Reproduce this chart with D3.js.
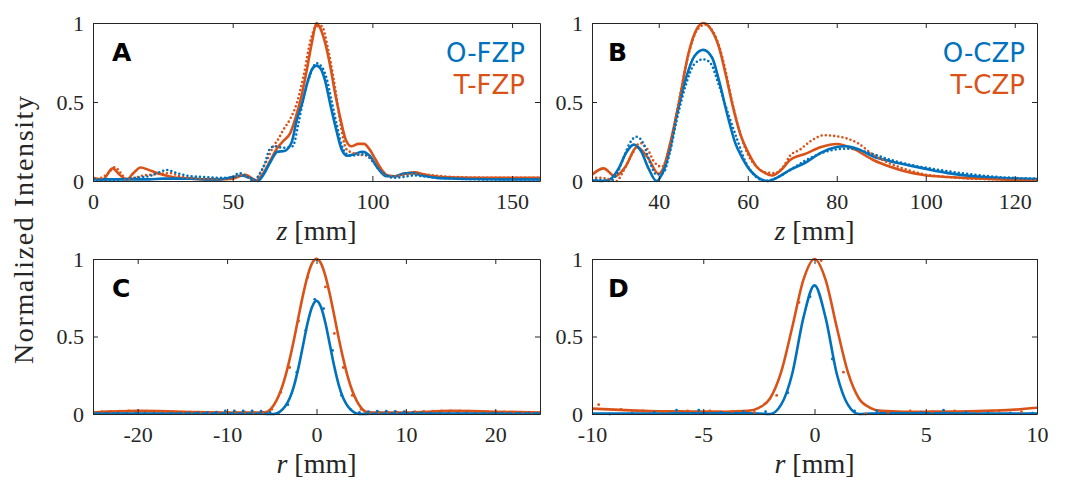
<!DOCTYPE html>
<html>
<head>
<meta charset="utf-8">
<script src="https://cdn.jsdelivr.net/npm/d3@7"></script>
<style>
  html, body { margin: 0; padding: 0; background: #fff; }
  svg { display: block; }
</style>
</head>
<body>
<div id="chart"></div>
<script>
// Panel A (FZP, axial): z in mm
const A_FIT_O_Z = [0, 5, 10, 15, 20, 25, 30, 35, 40, 45, 50, 53, 56, 59, 61, 63.5, 66, 68.5, 71, 73, 75, 77, 78.5, 80, 81.5, 83, 85, 87, 89, 91, 93.5, 96.5, 99, 102, 105, 108, 111, 114, 118, 123, 130, 140, 150, 160];
const A_FIT_O = [0.01, 0.01, 0.01, 0.01, 0.01, 0.015, 0.015, 0.015, 0.01, 0.01, 0.025, 0.035, 0.02, 0.0, 0.04, 0.12, 0.185, 0.19, 0.24, 0.39, 0.5, 0.64, 0.71, 0.73, 0.71, 0.64, 0.48, 0.33, 0.2, 0.16, 0.17, 0.185, 0.16, 0.08, 0.03, 0.03, 0.045, 0.05, 0.035, 0.02, 0.015, 0.012, 0.01, 0.01];
const A_FIT_T_Z = [0, 3.5, 7, 9.5, 12, 14.5, 17, 20, 23, 26, 30, 35, 40, 45, 50, 54.5, 58.5, 61, 63.5, 66, 68.5, 70.5, 72.5, 74.5, 76.5, 78.5, 80, 81.5, 83, 85, 86.5, 88.5, 90.5, 92.5, 95, 97, 99, 101, 103, 105.5, 108, 111, 115, 119, 125, 135, 145, 160];
const A_FIT_T = [0.02, 0.01, 0.08, 0.04, 0.01, 0.05, 0.085, 0.07, 0.05, 0.035, 0.02, 0.015, 0.01, 0.01, 0.015, 0.04, 0.005, 0.05, 0.13, 0.21, 0.26, 0.3, 0.4, 0.53, 0.7, 0.89, 1.0, 0.96, 0.88, 0.72, 0.57, 0.4, 0.26, 0.22, 0.235, 0.235, 0.2, 0.14, 0.08, 0.035, 0.03, 0.045, 0.055, 0.04, 0.025, 0.02, 0.02, 0.02];
const A_MEAS_O_Z = [0, 5, 10, 15, 20, 23, 26.5, 30, 35, 40, 45, 49, 52.5, 55, 57.5, 59.5, 61.5, 63.2, 65, 68, 71.5, 73.5, 75.2, 77.5, 80, 82, 83.6, 85.5, 87.2, 89.6, 92, 94.5, 97, 100.3, 102.5, 104, 107.4, 111, 115, 120, 130, 140, 160];
const A_MEAS_O = [0.005, 0.005, 0.01, 0.02, 0.03, 0.05, 0.07, 0.05, 0.03, 0.025, 0.02, 0.02, 0.05, 0.03, 0.0, 0.04, 0.11, 0.2, 0.22, 0.21, 0.22, 0.36, 0.51, 0.66, 0.745, 0.72, 0.65, 0.5, 0.36, 0.2, 0.16, 0.165, 0.17, 0.12, 0.07, 0.05, 0.02, 0.025, 0.035, 0.025, 0.015, 0.01, 0.01];
const A_MEAS_T_Z = [0, 3, 5.5, 7.8, 10, 12, 15, 18, 21, 24, 27.5, 31, 35, 40, 45, 50, 53.5, 56, 58, 59.8, 62.2, 64.6, 66.5, 68, 70.5, 72.9, 75.3, 78, 80, 81.8, 84.2, 86, 87.2, 88.4, 90.8, 94.4, 98, 101.5, 105, 108, 112, 117, 122, 130, 145, 160];
const A_MEAS_T = [0.01, 0.02, 0.05, 0.087, 0.05, 0.01, 0.02, 0.035, 0.04, 0.045, 0.05, 0.03, 0.02, 0.015, 0.015, 0.02, 0.04, 0.02, 0.0, 0.05, 0.13, 0.22, 0.27, 0.32, 0.39, 0.49, 0.66, 0.9, 0.98, 0.98, 0.83, 0.66, 0.53, 0.38, 0.2, 0.17, 0.16, 0.1, 0.035, 0.03, 0.04, 0.045, 0.035, 0.025, 0.02, 0.02];

// Panel B (CZP, axial)
const B_FIT_O_Z = [25, 27, 29, 31, 32.7, 34.4, 36, 37.7, 39.5, 41, 42.5, 44, 46, 48, 50, 52, 53.5, 55.5, 57.2, 58.7, 60.2, 61.7, 63.2, 64.6, 66.5, 69.5, 73.2, 76.5, 80, 82, 85, 88.2, 92, 96, 99.5, 105, 110.7, 115, 120, 125];
const B_FIT_O = [0.005, 0.0, 0.01, 0.08, 0.18, 0.23, 0.19, 0.08, 0.0, 0.06, 0.2, 0.41, 0.64, 0.79, 0.83, 0.78, 0.64, 0.41, 0.24, 0.15, 0.08, 0.035, 0.008, 0.0, 0.02, 0.07, 0.12, 0.18, 0.215, 0.22, 0.2, 0.155, 0.125, 0.1, 0.08, 0.05, 0.03, 0.022, 0.016, 0.013];
const B_FIT_T_Z = [25, 27.6, 30.2, 32.5, 35.1, 37.5, 40, 41, 42.5, 44.5, 46.7, 48.5, 50, 51.5, 53.5, 55, 56.5, 58.3, 60.2, 62, 63.9, 65.5, 67.5, 69.5, 73.2, 76.5, 80, 84, 88.2, 92, 95.5, 99.5, 105, 110.7, 117, 125];
const B_FIT_T = [0.04, 0.08, 0.03, 0.09, 0.215, 0.15, 0.045, 0.08, 0.23, 0.49, 0.81, 0.96, 1.0, 0.97, 0.85, 0.68, 0.49, 0.3, 0.175, 0.09, 0.05, 0.035, 0.07, 0.133, 0.175, 0.215, 0.234, 0.2, 0.133, 0.09, 0.06, 0.038, 0.025, 0.017, 0.01, 0.005];
const B_MEAS_O_Z = [25, 27, 29, 30.5, 32, 33.5, 35, 36.5, 38, 39.5, 41, 42.5, 44, 46, 48, 50, 51.5, 53.6, 55.2, 57.4, 59.7, 61.7, 64, 66, 69, 73, 77, 80, 83, 87, 92, 97, 102, 108, 115, 125];
const B_MEAS_O = [0.01, 0.005, 0.0, 0.04, 0.14, 0.24, 0.28, 0.24, 0.12, 0.04, 0.05, 0.18, 0.38, 0.6, 0.74, 0.77, 0.75, 0.6, 0.46, 0.28, 0.11, 0.03, 0.0, 0.015, 0.06, 0.13, 0.18, 0.2, 0.205, 0.18, 0.135, 0.1, 0.075, 0.05, 0.028, 0.015];
const B_MEAS_T_Z = [25, 27, 29, 30.5, 32, 34, 35.8, 37.5, 39, 40.7, 42.5, 44.5, 46.7, 48.5, 50.5, 51.6, 53.5, 55, 56.5, 58.3, 60, 62, 64, 66, 68, 69.5, 71.8, 74, 77.3, 79.5, 82.2, 84.7, 88, 92, 96, 100, 105, 110, 117, 125];
const B_MEAS_T = [0.02, 0.02, 0.01, 0.0, 0.06, 0.17, 0.24, 0.2, 0.12, 0.09, 0.22, 0.5, 0.8, 0.95, 0.99, 0.97, 0.86, 0.7, 0.5, 0.3, 0.17, 0.09, 0.055, 0.05, 0.09, 0.16, 0.2, 0.25, 0.29, 0.285, 0.27, 0.24, 0.17, 0.11, 0.07, 0.04, 0.025, 0.015, 0.01, 0.005];

// Panel C (FZP, radial): r in mm
const C_FIT_T_R = [-25, -20, -15, -10, -7, -6, -5.5, -5, -4.5, -4, -3.5, -3, -2.5, -2, -1.5, -1, -0.5, 0, 0.5, 1, 1.5, 2, 2.5, 3, 3.5, 4, 4.5, 5, 5.5, 6, 7, 10, 15, 20, 25];
const C_FIT_T = [0.01, 0.02, 0.015, 0.01, 0.01, 0.01, 0.015, 0.04, 0.085, 0.15, 0.24, 0.354, 0.486, 0.63, 0.77, 0.89, 0.972, 1.0, 0.972, 0.89, 0.77, 0.63, 0.486, 0.354, 0.24, 0.15, 0.085, 0.04, 0.015, 0.01, 0.01, 0.01, 0.02, 0.015, 0.01];
const C_FIT_O_R = [-25, -20, -15, -10, -6, -5, -4.5, -4, -3.5, -3, -2.5, -2, -1.5, -1, -0.5, 0, 0.5, 1, 1.5, 2, 2.5, 3, 3.5, 4, 4.5, 5, 6, 10, 15, 20, 25];
const C_FIT_O = [0.003, 0.003, 0.003, 0.003, 0.002, 0.0, 0.004, 0.02, 0.05, 0.101, 0.185, 0.304, 0.445, 0.586, 0.69, 0.73, 0.69, 0.586, 0.445, 0.304, 0.185, 0.101, 0.05, 0.02, 0.004, 0.0, 0.002, 0.003, 0.003, 0.003, 0.003];
const C_MEAS_O_R = [-25.2, -24.2, -23.2, -22.2, -21.2, -20.2, -19.2, -18.2, -17.2, -16.2, -15.2, -14.2, -13.2, -12.2, -11.2, -10.2, -9.2, -8.2, -7.2, -6.2, -5.2, -4.2, -3.2, -2.2, -1.2, -0.2, 0.8, 1.8, 2.8, 3.8, 4.8, 5.8, 6.8, 7.8, 8.8, 9.8, 10.8, 11.8, 12.8, 13.8, 14.8, 15.8, 16.8, 17.8, 18.8, 19.8, 20.8, 21.8, 22.8, 23.8, 24.8];
const C_MEAS_O = [0.005, 0.004, 0.006, 0.005, 0.004, 0.005, 0.006, 0.005, 0.004, 0.005, 0.006, 0.007, 0.008, 0.01, 0.012, 0.02, 0.02, 0.02, 0.02, 0.018, 0.01, 0.01, 0.06, 0.27, 0.54, 0.74, 0.68, 0.41, 0.12, 0.03, 0.01, 0.015, 0.018, 0.018, 0.016, 0.015, 0.01, 0.008, 0.006, 0.006, 0.005, 0.006, 0.005, 0.004, 0.005, 0.006, 0.005, 0.004, 0.005, 0.005, 0.004];
const C_MEAS_T_R = [-25, -24, -23, -22, -21, -20, -19, -18, -17, -16, -15, -14, -13, -12, -11, -10, -9, -8, -7, -6, -5, -4, -3, -2, -1, 0, 1, 2, 3, 4, 5, 6, 7, 8, 9, 10, 11, 12, 13, 14, 15, 16, 17, 18, 19, 20, 21, 22, 23, 24, 25];
const C_MEAS_T = [0.012, 0.015, 0.016, 0.018, 0.02, 0.02, 0.018, 0.016, 0.015, 0.014, 0.012, 0.012, 0.01, 0.01, 0.01, 0.01, 0.012, 0.012, 0.01, 0.01, 0.03, 0.14, 0.3, 0.6, 0.88, 1.0, 0.82, 0.52, 0.3, 0.12, 0.03, 0.01, 0.01, 0.012, 0.012, 0.014, 0.015, 0.016, 0.018, 0.02, 0.02, 0.02, 0.018, 0.016, 0.015, 0.015, 0.014, 0.012, 0.012, 0.01, 0.01];

// Panel D (CZP, radial)
const D_FIT_T_R = [-10, -9, -8, -7, -6, -5, -4, -3, -2.5, -2, -1.5, -1, -0.5, 0, 0.5, 1, 1.5, 2, 2.5, 3, 4, 5, 6, 7, 8, 9, 10];
const D_FIT_T = [0.035, 0.028, 0.022, 0.018, 0.017, 0.016, 0.015, 0.02, 0.04, 0.1, 0.27, 0.56, 0.865, 1.0, 0.865, 0.56, 0.27, 0.1, 0.04, 0.02, 0.015, 0.015, 0.016, 0.018, 0.022, 0.028, 0.04];
const D_FIT_O_R = [-10, -8, -6, -4, -3, -2.5, -2, -1.5, -1, -0.5, 0, 0.5, 1, 1.5, 2, 2.5, 3, 4, 6, 8, 10];
const D_FIT_O = [0.003, 0.003, 0.004, 0.004, 0.004, 0.003, 0.0, 0.06, 0.26, 0.62, 0.83, 0.62, 0.26, 0.06, 0.0, 0.003, 0.004, 0.004, 0.004, 0.003, 0.003];
const D_MEAS_O_R = [-9.2, -8.2, -7.2, -6.2, -5.2, -4.2, -3.2, -2.2, -1.2, -0.2, 0.8, 1.8, 2.8, 3.8, 4.8, 5.8, 6.8, 7.8, 8.8, 9.8];
const D_MEAS_O = [0.0, 0.005, 0.01, 0.025, 0.025, 0.01, 0.015, 0.015, 0.137, 0.757, 0.355, 0.02, 0.02, 0.005, 0.01, 0.025, 0.01, 0.005, 0.005, 0.005];
const D_MEAS_T_R = [-9.7, -8.7, -7.7, -6.7, -5.7, -4.7, -3.7, -2.7, -1.7, -0.7, 0.3, 1.3, 2.3, 3.3, 4.3, 5.3, 6.3, 7.3, 8.3, 9.3];
const D_MEAS_T = [0.06, 0.03, 0.02, 0.015, 0.02, 0.02, 0.015, 0.01, 0.12, 0.72, 0.99, 0.27, 0.0, 0.01, 0.02, 0.015, 0.02, 0.015, 0.02, 0.015];

// Axis ticks
const A_XTICKS = [0, 50, 100, 150];
const B_XTICKS = [40, 60, 80, 100, 120];
const C_XTICKS = [-20, -10, 0, 10, 20];
const D_XTICKS = [-10, -5, 0, 5, 10];
const Y_TICKS = [0, 0.5, 1];

(function () {
	const BLUE = "#0072BD";
	const ORANGE = "#D95319";
	const AXIS = "#262626";
	const SERIF = "'Liberation Serif', 'Times New Roman', serif";
	const SANS = "'DejaVu Sans', sans-serif";

	const W = 1066, H = 480;
	const COLS = [[93, 540], [592, 1037]];
	const ROWS = [[23, 181], [259, 414]];

	const zip = (xs, ys) => xs.map((x, i) => ({ x, y: ys[i] }));

	const panels = [
		{
			letter: "A", col: 0, row: 0, domain: [0, 160], ticks: A_XTICKS, xlabel: "z", legend: ["O-FZP", "T-FZP"], dots: "line",
			fitO: zip(A_FIT_O_Z, A_FIT_O), fitT: zip(A_FIT_T_Z, A_FIT_T),
			measO: zip(A_MEAS_O_Z, A_MEAS_O), measT: zip(A_MEAS_T_Z, A_MEAS_T),
		},
		{
			letter: "B", col: 1, row: 0, domain: [25, 125], ticks: B_XTICKS, xlabel: "z", legend: ["O-CZP", "T-CZP"], dots: "line",
			fitO: zip(B_FIT_O_Z, B_FIT_O), fitT: zip(B_FIT_T_Z, B_FIT_T),
			measO: zip(B_MEAS_O_Z, B_MEAS_O), measT: zip(B_MEAS_T_Z, B_MEAS_T),
		},
		{
			letter: "C", col: 0, row: 1, domain: [-25, 25], ticks: C_XTICKS, xlabel: "r", legend: null, dots: "marker",
			fitO: zip(C_FIT_O_R, C_FIT_O), fitT: zip(C_FIT_T_R, C_FIT_T),
			measO: zip(C_MEAS_O_R, C_MEAS_O), measT: zip(C_MEAS_T_R, C_MEAS_T),
		},
		{
			letter: "D", col: 1, row: 1, domain: [-10, 10], ticks: D_XTICKS, xlabel: "r", legend: null, dots: "marker",
			fitO: zip(D_FIT_O_R, D_FIT_O), fitT: zip(D_FIT_T_R, D_FIT_T),
			measO: zip(D_MEAS_O_R, D_MEAS_O), measT: zip(D_MEAS_T_R, D_MEAS_T),
		},
	];

	const svg = d3.select("#chart").append("svg").attr("width", W).attr("height", H);

	// Shared y label
	svg.append("text")
		.attr("transform", `translate(33, 230) rotate(-90)`)
		.attr("text-anchor", "middle")
		.attr("textLength", 268)
		.attr("lengthAdjust", "spacing")
		.style("font-family", SERIF)
		.style("font-size", "28px")
		.style("fill", AXIS)
		.text("Normalized Intensity");

	panels.forEach(p => {
		const [x0, x1] = COLS[p.col];
		const [y0, y1] = ROWS[p.row];
		const x = d3.scaleLinear().domain(p.domain).range([x0, x1]);
		const y = d3.scaleLinear().domain([0, 1]).range([y1, y0]);

		const g = svg.append("g");
		const clipId = "clip" + p.letter;
		g.append("clipPath").attr("id", clipId)
			.append("rect").attr("x", x0).attr("y", y0 - 3).attr("width", x1 - x0).attr("height", y1 - y0 + 6);

		const plot = g.append("g").attr("clip-path", `url(#${clipId})`);
		const line = d3.line().x(d => x(d.x)).y(d => y(d.y)).curve(d3.curveMonotoneX);

		// fitted curves
		[[p.fitT, ORANGE], [p.fitO, BLUE]].forEach(([data, c]) => {
			plot.append("path")
				.attr("d", line(data))
				.attr("fill", "none")
				.attr("stroke", c)
				.attr("stroke-width", 2.6)
				.attr("stroke-linejoin", "round");
		});

		// measured data
		[[p.measT, ORANGE], [p.measO, BLUE]].forEach(([data, c]) => {
			if (p.dots === "line") {
				plot.append("path")
					.attr("d", line(data))
					.attr("fill", "none")
					.attr("stroke", c)
					.attr("stroke-width", 2.6)
					.attr("stroke-linecap", "round")
					.attr("stroke-dasharray", "0 4.2");
			} else {
				plot.selectAll(null).data(data).enter()
					.append("circle")
					.attr("cx", d => x(d.x))
					.attr("cy", d => y(d.y))
					.attr("r", 1.4)
					.attr("fill", c);
			}
		});

		// Axes box with inward ticks
		const styleAxis = sel => {
			sel.select(".domain").attr("stroke", AXIS).attr("stroke-width", 1);
			sel.selectAll(".tick line").attr("stroke", AXIS).attr("stroke-width", 1);
			sel.selectAll("text")
				.style("font-family", SERIF)
				.style("font-size", "22px")
				.style("fill", AXIS);
		};
		g.append("g").attr("transform", `translate(0, ${y1})`)
			.call(d3.axisBottom(x).tickValues(p.ticks).tickSizeInner(-5).tickSizeOuter(0).tickPadding(12).tickFormat(d => String(d)))
			.call(styleAxis);
		g.append("g").attr("transform", `translate(0, ${y0})`)
			.call(d3.axisTop(x).tickValues(p.ticks).tickSizeInner(-5).tickSizeOuter(0).tickFormat(""))
			.call(styleAxis);
		g.append("g").attr("transform", `translate(${x0}, 0)`)
			.call(d3.axisLeft(y).tickValues(Y_TICKS).tickSizeInner(-5).tickSizeOuter(0).tickPadding(9).tickFormat(d => String(d)))
			.call(styleAxis);
		g.append("g").attr("transform", `translate(${x1}, 0)`)
			.call(d3.axisRight(y).tickValues(Y_TICKS).tickSizeInner(-5).tickSizeOuter(0).tickFormat(""))
			.call(styleAxis);
		g.selectAll(".tick text").attr("font-family", null);

		// x label: italic variable + [mm]
		const lbl = g.append("text")
			.attr("x", (x0 + x1) / 2)
			.attr("y", y1 + 59)
			.attr("text-anchor", "middle")
			.style("font-family", SERIF)
			.style("font-size", "28px")
			.style("fill", AXIS);
		lbl.append("tspan").style("font-style", "italic").text(p.xlabel);
		lbl.append("tspan").text(" [mm]");

		// panel letter
		g.append("text")
			.attr("x", x0 + (p.col === 0 ? 19 : 16))
			.attr("y", y0 + 38)
			.style("font-family", SANS)
			.style("font-weight", 700)
			.style("font-size", "25px")
			.style("fill", "#000")
			.text(p.letter);

		if (p.legend) {
			[[p.legend[0], BLUE], [p.legend[1], ORANGE]].forEach(([t, c], i) => {
				g.append("text")
					.attr("x", x1 - (p.col === 0 ? 15 : 12))
					.attr("y", y0 + 39 + i * 32)
					.attr("text-anchor", "end")
					.style("font-family", SANS)
					.style("font-size", "26px")
					.style("fill", c)
					.text(t);
			});
		}
	});
})();
</script>
</body>
</html>
